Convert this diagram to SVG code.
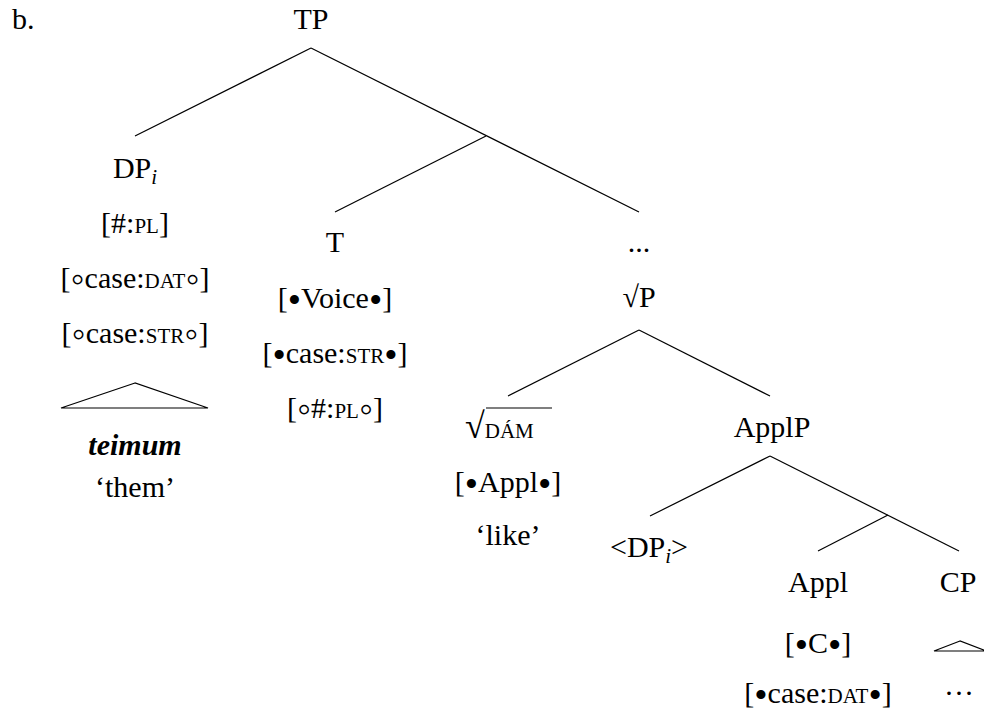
<svg xmlns="http://www.w3.org/2000/svg" width="984" height="717" viewBox="0 0 984 717" font-family="Liberation Serif, DejaVu Serif, serif">
<style>
text{font-size:30px;fill:#000;text-anchor:middle}
.sc{font-size:21px}
.sub{font-size:21px;font-style:italic}
.bi{font-weight:bold;font-style:italic}
.o{font-size:40px;baseline-shift:-4px}
.b{font-size:38px;baseline-shift:-5px}
line,polyline,polygon{stroke:#000;stroke-width:1.2;fill:none}
</style>
<rect width="984" height="717" fill="#fff"/>
<text x="12" y="29" style="text-anchor:start">b.</text>
<g id="connectors">
<line x1="311" y1="48" x2="135" y2="136"/>
<line x1="311" y1="48" x2="639" y2="212"/>
<line x1="486" y1="136" x2="335" y2="212"/>
<line x1="639" y1="330" x2="508" y2="396"/>
<line x1="639" y1="330" x2="770" y2="396"/>
<line x1="770" y1="456" x2="650" y2="516"/>
<line x1="770" y1="456" x2="959" y2="551"/>
<line x1="888" y1="515" x2="818" y2="551"/>
</g>
<g id="TP"><text x="311" y="29">TP</text></g>
<g id="DP">
<text x="135" y="178">DP<tspan class="sub" dy="6">i</tspan></text>
<text x="135" y="233">[#:<tspan class="sc">PL</tspan>]</text>
<text x="135" y="288">[<tspan class="o">◦</tspan>case:<tspan class="sc">DAT</tspan><tspan class="o">◦</tspan>]</text>
<text x="135" y="343">[<tspan class="o">◦</tspan>case:<tspan class="sc">STR</tspan><tspan class="o">◦</tspan>]</text>
<polygon points="135,383 61,408 208,408"/>
<text x="135" y="455" class="bi">teimum</text>
<text x="135" y="497">‘them’</text>
</g>
<g id="T">
<text x="335" y="252">T</text>
<text x="335" y="308">[<tspan class="b">•</tspan>Voice<tspan class="b">•</tspan>]</text>
<text x="335" y="363">[<tspan class="b">•</tspan>case:<tspan class="sc">STR</tspan><tspan class="b">•</tspan>]</text>
<text x="335" y="418">[<tspan class="o">◦</tspan>#:<tspan class="sc">PL</tspan><tspan class="o">◦</tspan>]</text>
</g>
<g id="dots"><text x="639" y="252">...</text></g>
<g id="rootP"><text x="639" y="307">√P</text></g>
<g id="rootDAM">
<text x="465" y="438" style="text-anchor:start"><tspan style="font-size:36px">√</tspan><tspan class="sc">DÁM</tspan></text>
<line x1="486" y1="408" x2="552" y2="408"/>
<text x="508" y="492">[<tspan class="b">•</tspan>Appl<tspan class="b">•</tspan>]</text>
<text x="508" y="545">‘like’</text>
</g>
<g id="ApplP"><text x="772" y="437">ApplP</text></g>
<g id="DPtrace"><text x="649" y="557">&lt;DP<tspan class="sub" dy="6">i</tspan><tspan dy="-6">&gt;</tspan></text></g>
<g id="Appl">
<text x="818" y="592">Appl</text>
<text x="818" y="653">[<tspan class="b">•</tspan>C<tspan class="b">•</tspan>]</text>
<text x="818" y="703">[<tspan class="b">•</tspan>case:<tspan class="sc">DAT</tspan><tspan class="b">•</tspan>]</text>
</g>
<g id="CP">
<text x="958" y="592">CP</text>
<polygon points="960,641 934,651 986,651"/>
<text x="959" y="703">···</text>
</g>
</svg>
